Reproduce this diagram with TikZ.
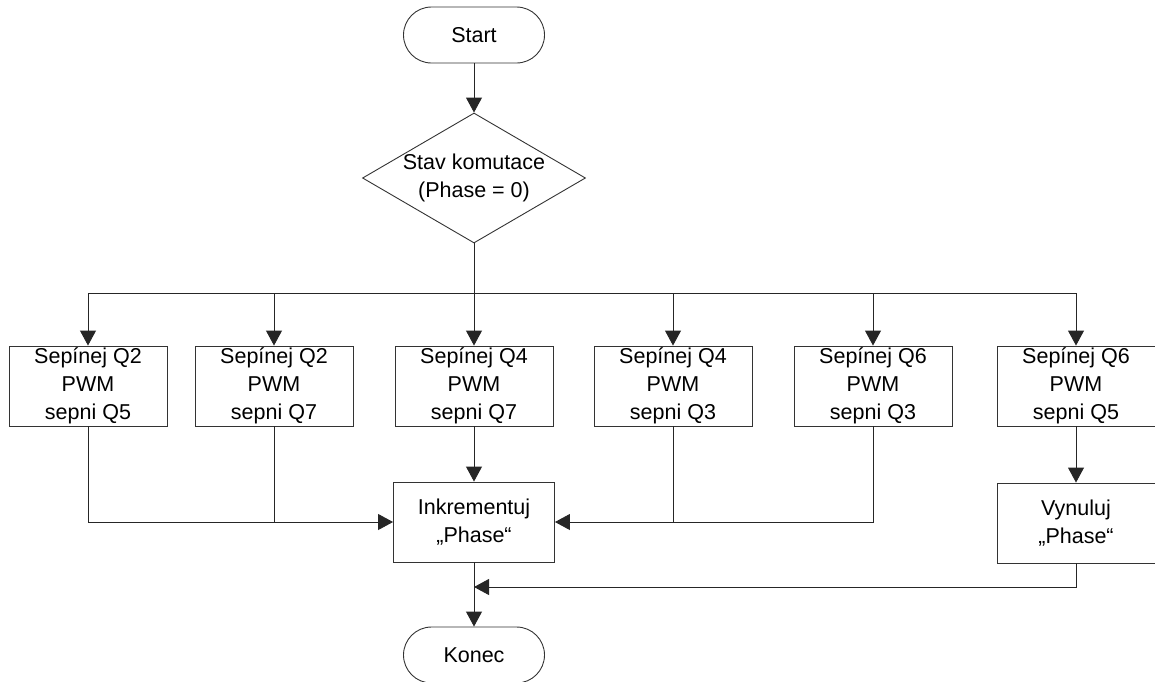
\documentclass[tikz,border=0pt]{standalone}
\usepackage{fontspec}
\setmainfont{Liberation Sans}
\usetikzlibrary{arrows.meta,shapes.geometric}

\tikzset{
  label font/.style={font=\fontsize{21.5pt}{28pt}\selectfont},
  base/.style={draw=black!80, line width=0.9pt, label font, align=center, inner sep=0pt},
  terminal/.style={base, rectangle, rounded corners=28pt, minimum width=141pt, minimum height=56pt},
  decision/.style={base, diamond, minimum width=223pt, minimum height=130pt},
  process/.style={base, rectangle, minimum width=158pt, minimum height=80pt},
  link/.style={draw=black!85, line width=0.9pt},
  flow/.style={link, -{Triangle[length=15pt,width=16pt]}}
}

\begin{document}
\begin{tikzpicture}[x=1pt,y=-1pt]
\useasboundingbox (0,0) rectangle (1155,681);

% start, decision
\node[terminal] (start) at (474,35) {Start};
\node[decision] (dec) at (474,178) {};
\node[label font, align=center, inner sep=0pt] (dectext) at (474,178) {Stav komutace\\(Phase = 0)};

% branch boxes
\node[process] (b1) at (88,386)   {Sepínej Q2\\PWM\\sepni Q5};
\node[process] (b2) at (274,386)  {Sepínej Q2\\PWM\\sepni Q7};
\node[process] (b3) at (474,386)  {Sepínej Q4\\PWM\\sepni Q7};
\node[process] (b4) at (673,386)  {Sepínej Q4\\PWM\\sepni Q3};
\node[process] (b5) at (873,386)  {Sepínej Q6\\PWM\\sepni Q3};
\node[process] (b6) at (1076,386) {Sepínej Q6\\PWM\\sepni Q5};

% second row
\node[process, minimum width=161pt] (ink) at (474,522) {Inkrementuj\\„Phase“};
\node[process] (vyn) at (1076,523) {Vynuluj\\„Phase“};

% end
\node[terminal] (end) at (474,655) {Konec};

\coordinate (bus) at (474,293);
\coordinate (merge) at (474,587);

% top part
\draw[flow] (start) -- (dec);
\draw[link] (dec.south) -- (bus);
\draw[link] (b1.north |- bus) -- (b6.north |- bus);
\foreach \b in {b1,b2,b3,b4,b5,b6}
  \draw[flow] (\b.north |- bus) -- (\b.north);

% collecting into the increment box
\draw[flow] (b1.south) |- (ink.west);
\draw[link] (b2.south) -- (b2.south |- ink.west);
\draw[flow] (b3.south) -- (ink.north);
\draw[flow] (b5.south) |- (ink.east);
\draw[link] (b4.south) -- (b4.south |- ink.east);
\draw[flow] (b6.south) -- (vyn.north);

% to the end
\draw[flow] (ink.south) -- (end.north);
\draw[flow] (vyn.south) |- (merge);
\end{tikzpicture}
\end{document}
